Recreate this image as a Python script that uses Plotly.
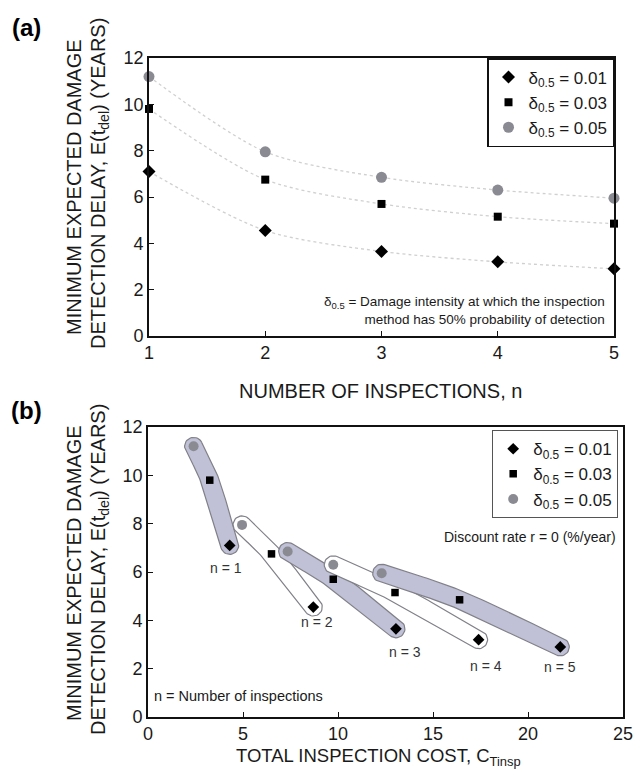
import numpy as np
import plotly.graph_objects as go

# ---------------- data ----------------
n_insp = [1, 2, 3, 4, 5]
series_names = ["δ<sub>0.5</sub> = 0.01", "δ<sub>0.5</sub> = 0.03", "δ<sub>0.5</sub> = 0.05"]
delay_001 = [7.1, 4.55, 3.65, 3.2, 2.9]
delay_003 = [9.8, 6.75, 5.7, 5.15, 4.85]
delay_005 = [11.2, 7.95, 6.85, 6.3, 5.95]
# total inspection cost (panel b), per n
cost_001 = [4.3, 8.7, 13.05, 17.4, 21.7]
cost_003 = [3.25, 6.5, 9.75, 13.0, 16.4]
cost_005 = [2.4, 4.95, 7.35, 9.75, 12.3]
n_labels = ["n = 1", "n = 2", "n = 3", "n = 4", "n = 5"]
n_label_x = [4.1, 8.9, 13.5, 17.8, 21.7]
n_label_y = [6.15, 3.95, 2.7, 2.1, 2.05]

FONT = "Liberation Sans, Arial, sans-serif"
TXT = "#1a1a1a"
GREY_PT = "#8a8a92"
BLOB_FILL = "#c0c0d6"
BLOB_LINE = "#808088"

W, H = 638, 784
# plot areas in pixels
A_L, A_R, A_T, A_B = 149, 614, 58, 336
B_L, B_R, B_T, B_B = 148, 623, 427, 717

fig = go.Figure()

markers_a = [
    dict(symbol="diamond", size=10, color="black"),
    dict(symbol="square", size=8, color="black"),
    dict(symbol="circle", size=11, color=GREY_PT),
]
markers_b = [
    dict(symbol="diamond", size=9, color="black"),
    dict(symbol="square", size=7.5, color="black"),
    dict(symbol="circle", size=10, color=GREY_PT),
]
delays = [delay_001, delay_003, delay_005]
costs = [cost_001, cost_003, cost_005]

# panel (a) dotted trend curves
for d in delays:
    fig.add_trace(go.Scatter(x=n_insp, y=d, mode="lines", line=dict(color="#d0d0d0", width=1.3, dash="dot", shape="spline", smoothing=0.8),
                             showlegend=False, hoverinfo="skip", xaxis="x", yaxis="y"))
for name, d, m in zip(series_names, delays, markers_a):
    fig.add_trace(go.Scatter(x=n_insp, y=d, mode="markers", name=name, marker=m, cliponaxis=False,
                             xaxis="x", yaxis="y", legend="legend"))

# panel (b) blobs built around the data points of each n
sx = (B_R - B_L) / 25.0
sy = (B_B - B_T) / 12.0


def blob(xs, ys, r=9.0, nseg=30):
    P = np.c_[np.array(xs) * sx, np.array(ys) * sy]
    ext = np.vstack([2 * P[0] - P[1], P, 2 * P[-1] - P[-2]])
    pts = []
    for i in range(1, len(ext) - 2):
        p0, p1, p2, p3 = ext[i - 1], ext[i], ext[i + 1], ext[i + 2]
        for t in np.linspace(0, 1, nseg, endpoint=False):
            t2, t3 = t * t, t * t * t
            pts.append(0.5 * ((2 * p1) + (-p0 + p2) * t + (2 * p0 - 5 * p1 + 4 * p2 - p3) * t2 + (-p0 + 3 * p1 - 3 * p2 + p3) * t3))
    pts.append(P[-1])
    C = np.array(pts)
    T = np.gradient(C, axis=0)
    T = T / np.linalg.norm(T, axis=1)[:, None]
    N = np.c_[-T[:, 1], T[:, 0]]
    left = C + r * N
    right = C - r * N
    th = np.linspace(0, np.pi, 20)
    endcap = C[-1] + r * (np.cos(th)[:, None] * N[-1] + np.sin(th)[:, None] * T[-1])
    startcap = C[0] + r * (-np.cos(th)[:, None] * N[0] - np.sin(th)[:, None] * T[0])
    poly = np.vstack([left, endcap, right[::-1], startcap, left[:1]])
    return poly[:, 0] / sx, poly[:, 1] / sy


for i in range(5):
    bx, by = blob([cost_005[i], cost_003[i], cost_001[i]], [delay_005[i], delay_003[i], delay_001[i]])
    fill = BLOB_FILL if i % 2 == 0 else "white"
    fig.add_trace(go.Scatter(x=bx, y=by, mode="lines", fill="toself", fillcolor=fill,
                             line=dict(color=BLOB_LINE, width=1.2), showlegend=False, hoverinfo="skip",
                             xaxis="x2", yaxis="y2"))

for name, c, d, m in zip(series_names, costs, delays, markers_b):
    fig.add_trace(go.Scatter(x=c, y=d, mode="markers", name=name, marker=m, cliponaxis=False,
                             xaxis="x2", yaxis="y2", legend="legend2"))

# n labels
for lab, lx, ly in zip(n_labels, n_label_x, n_label_y):
    fig.add_annotation(x=lx, y=ly, xref="x2", yref="y2", text=lab, showarrow=False, xanchor="center", yanchor="middle",
                       font=dict(family=FONT, size=14, color="#333"))

axis_common = dict(showline=True, mirror=True, linecolor="#111", linewidth=1.6, ticks="inside", ticklen=5,
                   tickcolor="#111", showgrid=False, zeroline=False, automargin=False,
                   tickfont=dict(family=FONT, size=18, color=TXT))

fig.update_layout(
    width=W, height=H, margin=dict(l=0, r=0, t=0, b=0, pad=0, autoexpand=False),
    paper_bgcolor="white", plot_bgcolor="white",
    font=dict(family=FONT, color=TXT),
    xaxis=dict(domain=[A_L / W, A_R / W], range=[1, 5], dtick=1, anchor="y", **axis_common),
    yaxis=dict(domain=[1 - A_B / H, 1 - A_T / H], range=[0, 12], dtick=2, anchor="x", **axis_common),
    xaxis2=dict(domain=[B_L / W, B_R / W], range=[0, 25], dtick=5, anchor="y2", **axis_common),
    yaxis2=dict(domain=[1 - B_B / H, 1 - B_T / H], range=[0, 12], dtick=2, anchor="x2", **axis_common),
    legend=dict(x=A_R / W, y=1 - A_T / H, xanchor="right", yanchor="top", bordercolor="#111", borderwidth=1.5,
                bgcolor="white", font=dict(family=FONT, size=17, color=TXT), tracegroupgap=0, itemwidth=30),
    legend2=dict(x=(B_R - 5) / W, y=1 - (B_T + 3) / H, xanchor="right", yanchor="top", bordercolor="#555",
                 borderwidth=1.2, bgcolor="white", font=dict(family=FONT, size=17, color=TXT), itemwidth=30),
)


def ann(x, y, text, size, **kw):
    d = dict(x=x / W, y=1 - y / H, xref="paper", yref="paper", text=text, showarrow=False,
             xanchor="center", yanchor="middle", font=dict(family=FONT, size=size, color=kw.pop("color", TXT)))
    d.update(kw)
    fig.add_annotation(**d)


ytitle1 = "MINIMUM EXPECTED DAMAGE"
ytitle2 = "DETECTION DELAY, E(t<sub>del</sub>) (YEARS)"
for yc in (187, 573):
    ann(74, yc, ytitle1, 20, textangle=-90)
    ann(99, yc - 3, ytitle2, 20, textangle=-90)
ann(380, 391, "NUMBER OF INSPECTIONS, n", 20)
ann(378, 757, "TOTAL INSPECTION COST, C<sub>Tinsp</sub>", 18.5)
ann(26, 28, "<b>(a)</b>", 24, color="black")
ann(26, 410, "<b>(b)</b>", 24, color="black")
ann(607, 310, "δ<sub>0.5</sub> = Damage intensity at which the inspection<br>method has 50% probability of detection",
    13.5, xanchor="right", align="right")
ann(618, 537, "Discount rate r = 0 (%/year)", 14, xanchor="right")
ann(152, 696, "n = Number of inspections", 14.5, xanchor="left")

fig.write_html("out.html", config={"displayModeBar": False}, post_script="document.body.style.margin='0';")
